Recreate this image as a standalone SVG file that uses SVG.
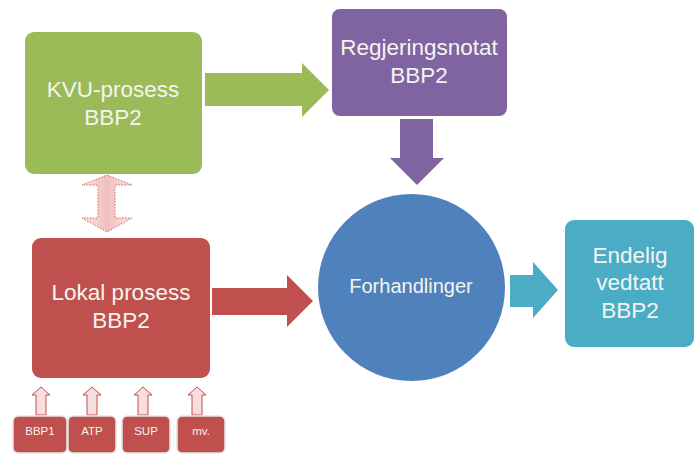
<svg xmlns="http://www.w3.org/2000/svg" width="695" height="457" viewBox="0 0 695 457">
<style>
.t{font-family:"Liberation Sans",Arial,sans-serif;fill:#f4f4f0;text-anchor:middle}
.big{font-size:22.5px}
.mid{font-size:20px}
.sm{font-size:11.5px}
.small{fill:#c0504d;stroke:#e6e6e6;stroke-width:1.5}
.up{fill:#f7dede;stroke:#c0504d;stroke-width:1}
</style>
<defs>
<linearGradient id="pk" x1="0" y1="0" x2="1" y2="0">
<stop offset="0" stop-color="#f9e0e0"/><stop offset="0.5" stop-color="#f1b3b5"/><stop offset="1" stop-color="#f9e0e0"/>
</linearGradient>
</defs>
<rect width="695" height="457" fill="#ffffff"/>
<g id="connectors">
<path d="M205,73 H302 V63 L329,90 L302,117 V106 H205 Z" fill="#9bbb59"/>
<path d="M400,119 H433 V158 H444 L417,185 L390,158 H400 Z" fill="#8064a2"/>
<path d="M212,288 H287 V275 L313,301 L287,327 V315 H212 Z" fill="#c0504d"/>
<path d="M510,275 H533 V262 L558,290 L533,318 V307 H510 Z" fill="#4bacc6"/>
<path d="M107,175 L132,185 H115 V218 H132 L107,232 L82,218 H98 V185 H82 Z" fill="url(#pk)" stroke="#c0504d" stroke-width="1" stroke-dasharray="1.5 1.5" opacity="0.85"/>
<path class="up" d="M41,387 L50,395 H46 V415 H36 V395 H32 Z"/>
<path class="up" d="M92,387 L101,395 H97 V415 H87 V395 H83 Z"/>
<path class="up" d="M143,387 L152,395 H148 V415 H138 V395 H134 Z"/>
<path class="up" d="M197,387 L206,395 H202 V415 H192 V395 H188 Z"/>
</g>
<g id="kvu">
<rect x="25" y="32" width="177" height="142" rx="9" fill="#9bbb59"/>
<text class="t big" x="113" y="97">KVU-prosess</text>
<text class="t big" x="113" y="125">BBP2</text>
</g>
<g id="regjering">
<rect x="332" y="9" width="175" height="107" rx="8" fill="#8064a2"/>
<text class="t big" x="419" y="55">Regjeringsnotat</text>
<text class="t big" x="419" y="83">BBP2</text>
</g>
<g id="lokal">
<rect x="32" y="238" width="178" height="140" rx="9" fill="#c0504d"/>
<text class="t big" x="121" y="300">Lokal prosess</text>
<text class="t big" x="121" y="328">BBP2</text>
</g>
<g id="forhandlinger">
<circle cx="411.5" cy="287.5" r="93.5" fill="#4f81bd"/>
<text class="t mid" x="411" y="293">Forhandlinger</text>
</g>
<g id="endelig">
<rect x="565" y="220" width="129" height="127" rx="9" fill="#4bacc6"/>
<text class="t big" x="630" y="263">Endelig</text>
<text class="t big" x="630" y="290">vedtatt</text>
<text class="t big" x="630" y="318">BBP2</text>
</g>
<g id="bbp1">
<rect class="small" x="13" y="416" width="54" height="37" rx="5"/>
<text class="t sm" x="40" y="435">BBP1</text>
</g>
<g id="atp">
<rect class="small" x="68" y="416" width="48" height="37" rx="5"/>
<text class="t sm" x="92" y="435">ATP</text>
</g>
<g id="sup">
<rect class="small" x="122" y="416" width="48" height="37" rx="5"/>
<text class="t sm" x="146" y="435">SUP</text>
</g>
<g id="mv">
<rect class="small" x="177" y="416" width="48" height="37" rx="5"/>
<text class="t sm" x="201" y="435">mv.</text>
</g>
</svg>
